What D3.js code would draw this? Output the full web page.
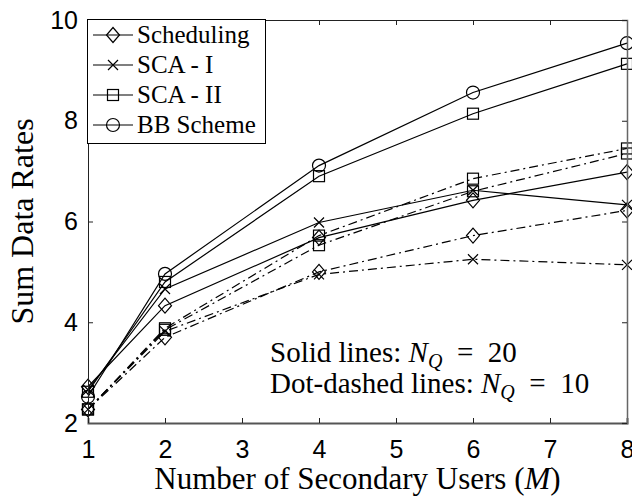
<!DOCTYPE html>
<html>
<head>
<meta charset="utf-8">
<script src="https://cdn.jsdelivr.net/npm/d3@7"></script>
<style>
    body { margin: 0; background: #fff; }
    svg { display: block; }
</style>
</head>
<body>
<svg width="632" height="496"></svg>
<script>
// data
var users = [1, 2, 4, 6, 8]
var xTicks = [1, 2, 3, 4, 5, 6, 7, 8]
var yTicks = [2, 4, 6, 8, 10]

var schedSolid = [2.72, 4.33, 5.68, 6.42, 6.98]
var scaISolid = [2.66, 4.66, 5.98, 6.62, 6.33]
var scaIISolid = [2.62, 4.80, 6.90, 8.14, 9.13]
var bbSolid = [2.52, 4.96, 7.11, 8.56, 9.54]

var schedDash = [2.27, 3.70, 5.00, 5.72, 6.22]
var scaIDash = [2.27, 3.82, 4.95, 5.25, 5.14]
var scaIIDash = [2.27, 3.88, 5.72, 6.85, 7.45]
var bbDash = [2.27, 3.85, 5.53, 6.60, 7.35]

var legendNames = ["Scheduling", "SCA - I", "SCA - II", "BB Scheme"]
var legendMarkers = ["diamond", "x", "square", "circle"]

function draw() {
    var svg = d3.select("svg")
    var pxL = 88, pxR = 627, pxT = 20, pxB = 423

    var scX = d3.scaleLinear().domain([1, 8]).range([pxL, pxR])
    var scY = d3.scaleLinear().domain([2, 10]).range([pxB, pxT])

    var serif = "'Liberation Serif', 'Times New Roman', serif"
    var sans = "'Liberation Sans', Arial, sans-serif"

    // markers
    var drawMarker = function (g, type, x, y) {
        if (type == "diamond") {
            g.append("path").attr("d", `M${x},${y - 7.5}L${x + 6.5},${y}L${x},${y + 7.5}L${x - 6.5},${y}Z`)
        } else if (type == "square") {
            g.append("rect").attr("x", x - 5.5).attr("y", y - 5.5).attr("width", 11).attr("height", 11)
        } else if (type == "circle") {
            g.append("circle").attr("cx", x).attr("cy", y).attr("r", 6.5)
        } else {
            g.append("path").attr("d", `M${x - 5},${y - 5}L${x + 5},${y + 5}M${x - 5},${y + 5}L${x + 5},${y - 5}`)
        }
    }

    var plot = svg.append("g")
        .attr("fill", "none").attr("stroke", "#000").attr("stroke-width", 1.2)

    var drawSeries = function (values, marker, dash) {
        var pts = users.map((u, i) => ({x: u, y: values[i]}))
        var lineMaker = d3.line().x(d => scX(d.x)).y(d => scY(d.y))
        var g = plot.append("g")
        g.append("path")
            .attr("d", lineMaker(pts))
            .attr("stroke-dasharray", dash ? "9,4,2,4" : null)
        pts.forEach(d => drawMarker(g, marker, scX(d.x), scY(d.y)))
    }

    drawSeries(schedDash, "diamond", true)
    drawSeries(scaIDash, "x", true)
    drawSeries(scaIIDash, "square", true)
    drawSeries(bbDash, "square", true)

    drawSeries(schedSolid, "diamond", false)
    drawSeries(scaISolid, "x", false)
    drawSeries(scaIISolid, "square", false)
    drawSeries(bbSolid, "circle", false)

    // axes box with inward ticks
    var axisG = svg.append("g")
    axisG.append("g").attr("transform", `translate(0,${pxT})`)
        .call(d3.axisTop(scX).tickValues(xTicks).tickSize(-5).tickFormat(""))
    axisG.append("g").attr("transform", `translate(${pxL},0)`)
        .call(d3.axisLeft(scY).tickValues(yTicks).tickSize(-5).tickPadding(10).tickFormat(d3.format("d")))
    var axB = axisG.append("g").attr("transform", `translate(0,${pxB})`)
        .call(d3.axisBottom(scX).tickValues(xTicks).tickSize(-5).tickPadding(17).tickFormat(d3.format("d")))
    var axR = axisG.append("g").attr("transform", `translate(${pxR},0)`)
        .call(d3.axisRight(scY).tickValues(yTicks).tickSize(-5).tickFormat(""))

    axisG.selectAll(".domain").attr("stroke", "#222").attr("stroke-width", 1)
    axB.select(".domain").attr("stroke", "#555").attr("stroke-width", 2)
    axR.select(".domain").attr("stroke", "#666").attr("stroke-width", 1.5)
    axisG.selectAll(".tick line").attr("stroke", "#222")
    axisG.selectAll("text").attr("font-family", sans).attr("font-size", 25).attr("fill", "#000")

    // legend
    var leg = svg.append("g")
    leg.append("rect").attr("x", 87.5).attr("y", 19.5).attr("width", 178).attr("height", 124)
        .attr("fill", "#fff").attr("stroke", "#000").attr("stroke-width", 1)
    legendNames.forEach(function (name, i) {
        var y = 35 + i * 30
        var g = leg.append("g").attr("fill", "none").attr("stroke", "#000").attr("stroke-width", 1.2)
        g.append("line").attr("x1", 93).attr("x2", 133).attr("y1", y).attr("y2", y)
        drawMarker(g, legendMarkers[i], 113, y)
        leg.append("text").attr("x", 137).attr("y", y + 8)
            .attr("font-family", serif).attr("font-size", 25).text(name)
    })

    // axis labels
    svg.append("text")
        .attr("x", (pxL + pxR) / 2).attr("y", 489)
        .attr("text-anchor", "middle")
        .attr("font-family", serif).attr("font-size", 31)
        .call(t => {
            t.append("tspan").text("Number of Secondary Users (")
            t.append("tspan").attr("font-style", "italic").text("M")
            t.append("tspan").text(")")
        })

    svg.append("text")
        .attr("transform", `translate(33,${(pxT + pxB) / 2}) rotate(-90)`)
        .attr("text-anchor", "middle")
        .attr("font-family", serif).attr("font-size", 32)
        .text("Sum Data Rates")

    // annotations
    var notes = [["Solid lines: ", "20", 362], ["Dot-dashed lines: ", "10", 393]]
    notes.forEach(function (n) {
        svg.append("text")
            .attr("x", 270).attr("y", n[2])
            .attr("font-family", serif).attr("font-size", 29)
            .call(t => {
                t.append("tspan").text(n[0])
                t.append("tspan").attr("font-style", "italic").text("N")
                t.append("tspan").attr("font-style", "italic").attr("font-size", 20).attr("dy", 6).text("Q")
                t.append("tspan").attr("dy", -6).text("\u2002=\u2002" + n[1])
            })
    })
}

draw()
</script>
</body>
</html>
